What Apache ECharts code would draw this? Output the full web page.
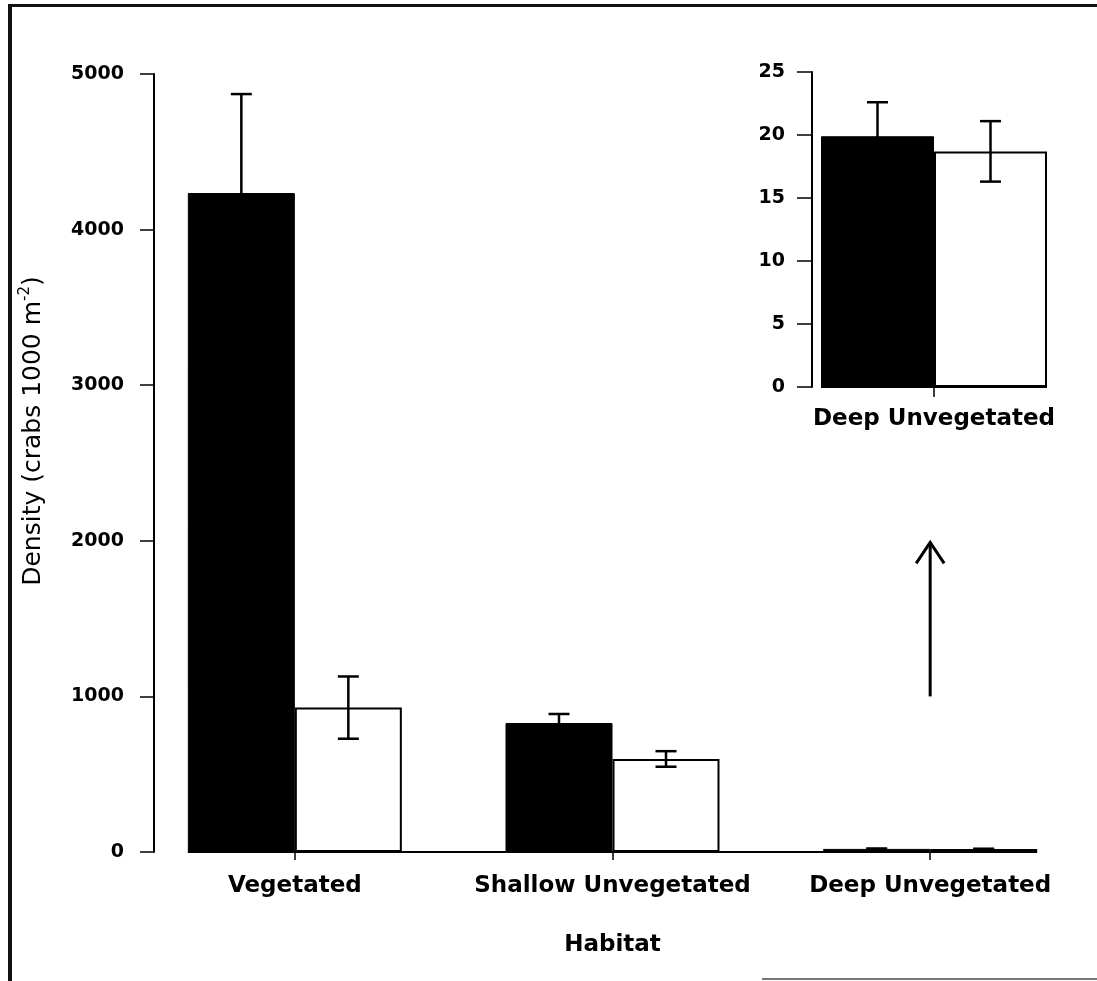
<!DOCTYPE html>
<html><head><meta charset="utf-8">
<script src="https://cdn.jsdelivr.net/npm/echarts@6/dist/echarts.min.js"></script>
<style>html,body{margin:0;padding:0;background:#fff}#c{width:1097px;height:981px}</style>
</head><body><div id="c"></div>
<script>
// ---- data ----
const categories = ['Vegetated', 'Shallow Unvegetated', 'Deep Unvegetated'];
const blackMeans = [4235, 829, 19.9];
const blackSE = [636, 58, 2.7];
const whiteMeans = [928, 598, 18.7];
const whiteSE = [200, 50, 2.4];

const insetCategories = ['Deep Unvegetated'];
const insetBlackMeans = [19.9];
const insetBlackSE = [2.7];
const insetWhiteMeans = [18.7];
const insetWhiteSE = [2.4];

const mainYMin = 0, mainYMax = 5000, mainYStep = 1000;
const insetYMin = 0, insetYMax = 25, insetYStep = 5;

const arrowCategory = 2;          // index into categories
const arrowFromTo = [1000, 1990]; // data values of arrow tail / tip

const yTitleMain = 'Density (crabs 1000 m';
const yTitleSup = '-2';
const xTitle = 'Habitat';

// ---- style constants ----
const BAR_W = 107, INSET_BAR_W = 113;
const LABEL_FONT = 'DejaVu Sans';

function errorRender(barW, cap, lw) {
  return function (params, api) {
    const cat = api.value(0), mean = api.value(1), se = api.value(2), side = api.value(3);
    const top = api.coord([cat, mean + se]);
    const bot = api.coord([cat, mean - se]);
    const x = top[0] + (side === 0 ? -barW / 2 : barW / 2);
    const st = { stroke: '#000', lineWidth: lw };
    return {
      type: 'group', children: [
        { type: 'line', shape: { x1: x, y1: top[1], x2: x, y2: bot[1] }, style: st },
        { type: 'line', shape: { x1: x - cap, y1: top[1], x2: x + cap, y2: top[1] }, style: st },
        { type: 'line', shape: { x1: x - cap, y1: bot[1], x2: x + cap, y2: bot[1] }, style: st }
      ]
    };
  };
}

const mainErr = [];
categories.forEach((c, i) => {
  mainErr.push([i, blackMeans[i], blackSE[i], 0]);
  mainErr.push([i, whiteMeans[i], whiteSE[i], 1]);
});
const insetErr = [];
insetCategories.forEach((c, i) => {
  insetErr.push([i, insetBlackMeans[i], insetBlackSE[i], 0]);
  insetErr.push([i, insetWhiteMeans[i], insetWhiteSE[i], 1]);
});

const yLabelStyle = { color: '#000', fontFamily: LABEL_FONT, fontWeight: 'bold', fontSize: 19,
  formatter: v => String(v) };
const xLabelStyle = { color: '#000', fontFamily: LABEL_FONT, fontWeight: 'bold', fontSize: 23 };

const chart = echarts.init(document.getElementById('c'), null, { renderer: 'canvas' });
const option = {
  animation: false,
  backgroundColor: '#fff',
  grid: [
    { left: 136, right: 8, top: 74, bottom: 129 },
    { left: 812, width: 244, top: 72, height: 315 }
  ],
  xAxis: [
    {
      type: 'category', gridIndex: 0, data: categories,
      axisLine: { show: false },
      axisTick: { show: true, alignWithLabel: true, length: 8, lineStyle: { color: '#000', width: 1.5 } },
      axisLabel: Object.assign({ margin: 23, interval: 0 }, xLabelStyle),
      name: xTitle, nameLocation: 'middle', nameGap: 82,
      nameTextStyle: xLabelStyle
    },
    {
      type: 'category', gridIndex: 1, data: insetCategories,
      axisLine: { show: false },
      axisTick: { show: true, alignWithLabel: true, length: 10, lineStyle: { color: '#000', width: 1.5 } },
      axisLabel: Object.assign({ margin: 21, interval: 0 }, xLabelStyle)
    }
  ],
  yAxis: [
    {
      type: 'value', gridIndex: 0, min: mainYMin, max: mainYMax, interval: mainYStep,
      offset: -18,
      splitLine: { show: false },
      axisLine: { show: true, lineStyle: { color: '#000', width: 2 } },
      axisTick: { show: true, length: 14, lineStyle: { color: '#000', width: 1.5 } },
      axisLabel: Object.assign({ margin: 30 }, yLabelStyle),
      name: '{a|' + yTitleMain + '}{s|' + yTitleSup + '}{a|)}',
      nameLocation: 'middle', nameGap: 106,
      nameTextStyle: {
        padding: [0, 0, 0, 64],
        rich: {
          a: { fontFamily: 'DejaVu Sans', fontSize: 25, color: '#000', lineHeight: 30 },
          s: { fontFamily: 'DejaVu Sans', fontSize: 15, color: '#000', lineHeight: 15, verticalAlign: 'top' }
        }
      }
    },
    {
      type: 'value', gridIndex: 1, min: insetYMin, max: insetYMax, interval: insetYStep,
      splitLine: { show: false },
      axisLine: { show: true, lineStyle: { color: '#000', width: 2 } },
      axisTick: { show: true, length: 15, lineStyle: { color: '#000', width: 1.5 } },
      axisLabel: Object.assign({ margin: 27 }, yLabelStyle)
    }
  ],
  series: [
    { type: 'bar', xAxisIndex: 0, yAxisIndex: 0, data: blackMeans, barWidth: BAR_W, barGap: '0%',
      itemStyle: { color: '#000', borderColor: '#000', borderWidth: 1 } },
    { type: 'bar', xAxisIndex: 0, yAxisIndex: 0, data: whiteMeans, barWidth: BAR_W, barGap: '0%',
      itemStyle: { color: '#fff', borderColor: '#000', borderWidth: 2 } },
    { type: 'custom', xAxisIndex: 0, yAxisIndex: 0, data: mainErr, z: 5,
      renderItem: errorRender(BAR_W, 10.5, 2.5) },
    { type: 'bar', xAxisIndex: 1, yAxisIndex: 1, data: insetBlackMeans, barWidth: INSET_BAR_W, barGap: '0%',
      itemStyle: { color: '#000', borderColor: '#000', borderWidth: 1 } },
    { type: 'bar', xAxisIndex: 1, yAxisIndex: 1, data: insetWhiteMeans, barWidth: INSET_BAR_W, barGap: '0%',
      itemStyle: { color: '#fff', borderColor: '#000', borderWidth: 2 } },
    { type: 'custom', xAxisIndex: 1, yAxisIndex: 1, data: insetErr, z: 5,
      renderItem: errorRender(INSET_BAR_W, 10.5, 2.5) },
    { type: 'custom', xAxisIndex: 0, yAxisIndex: 0, z: 5,
      data: [[arrowCategory, arrowFromTo[0], arrowFromTo[1]]],
      renderItem: function (params, api) {
        const b = api.coord([api.value(0), api.value(1)]);
        const t = api.coord([api.value(0), api.value(2)]);
        const st = { stroke: '#000', lineWidth: 3, fill: null };
        return { type: 'group', children: [
          { type: 'line', shape: { x1: b[0], y1: b[1], x2: t[0], y2: t[1] }, style: st },
          { type: 'polyline', shape: { points: [[t[0] - 14, t[1] + 21], [t[0], t[1]], [t[0] + 14, t[1] + 21]] }, style: st }
        ] };
      } }
  ]
};
chart.setOption(option);

// axis baselines spanning the bars (R-style detached x axes)
function baseline(xi, yi, cats, bw) {
  const x0 = chart.convertToPixel({ xAxisIndex: xi }, cats[0]) - bw;
  const x1 = chart.convertToPixel({ xAxisIndex: xi }, cats[cats.length - 1]) + bw;
  const y = chart.convertToPixel({ yAxisIndex: yi }, 0);
  return { type: 'line', shape: { x1: x0, y1: y, x2: x1, y2: y }, style: { stroke: '#000', lineWidth: 2 }, z: 10 };
}
chart.setOption({
  graphic: [
    baseline(0, 0, categories, BAR_W),
    baseline(1, 1, insetCategories, INSET_BAR_W),
    { type: 'line', shape: { x1: 10, y1: 4, x2: 10, y2: 981 }, style: { stroke: '#111', lineWidth: 4 } },
    { type: 'line', shape: { x1: 8, y1: 5.5, x2: 1097, y2: 5.5 }, style: { stroke: '#111', lineWidth: 3 } },
    { type: 'line', shape: { x1: 762, y1: 979, x2: 1097, y2: 979 }, style: { stroke: '#777', lineWidth: 2 } }
  ]
});
</script>
</body></html>
